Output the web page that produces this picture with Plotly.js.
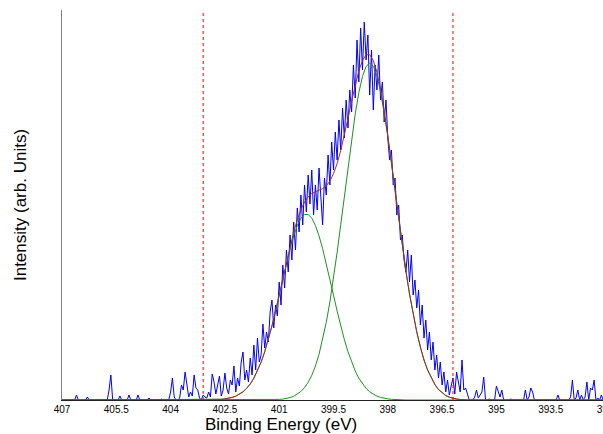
<!DOCTYPE html>
<html>
<head>
<meta charset="utf-8">
<script src="https://cdn.plot.ly/plotly-3.0.1.min.js"></script>
<style>
html, body { margin: 0; padding: 0; overflow: hidden; background: #fff; width: 603px; height: 434px; }
#chart { width: 620px; height: 434px; }
</style>
</head>
<body>
<div id="chart"></div>
<script>
// Measured spectrum: energies from 407 eV down in 0.05 eV steps
const dataStartEnergy = 407.0;
const dataStepEnergy = 0.05;
const measuredIntensity = [
  0,0,0,0,0,0,0,0,5,0,0,0,0,0,3,0,0,0,0,0,
  0,0,0,0,0,0,10,25,0,0,0,0,4,0,0,0,0,5,0,0,
  0,0,5,0,0,0,0,0,2,0,0,0,0,0,0,1,0,0,0,0,
  8,22,3,0,0,2,15,10,28,17,3,8,4,25,12,10,2,0,5,3,
  2,8,3,26,18,6,14,24,4,10,27,12,6,20,15,34,8,22,14,38,
  48,20,30,18,42,25,55,30,62,38,45,76,52,68,58,88,100,72,95,84,
  118,95,135,112,150,128,165,140,178,150,192,168,205,175,215,188,225,196,230,185,
  215,190,232,200,175,222,205,245,215,258,230,268,240,280,250,292,262,300,272,310,
  288,335,302,360,318,372,330,378,340,365,305,350,290,335,310,345,300,318,278,300,
  262,240,250,215,222,185,195,160,165,140,128,150,118,145,105,120,92,110,75,95,
  62,80,50,68,40,58,30,45,22,38,15,28,8,20,5,14,22,6,28,18,
  8,40,10,12,5,0,0,0,3,10,2,5,8,23,0,0,1,0,0,0,
  14,8,3,10,0,0,0,0,1,0,0,0,0,0,0,0,10,0,3,12,
  8,0,0,0,0,0,0,0,0,0,0,0,0,0,5,0,0,0,0,0,
  0,3,20,0,2,10,0,5,0,3,18,0,12,10,20,0,2,0,5,0,0
];

// Fit curves: energies from 403.0 eV down in 0.1 eV steps
const fitStartEnergy = 403.0;
const fitStepEnergy = 0.1;
const peakMain = [
  0,0,0,0,0,0,0,0,0,0, 0,0,0,0,0,0,0,0,0,0.3,
  0.6,0.9,1.5,2.4,3.7,5.7,8.5,12.4,17.7,24.7,
  33.9,45.6,60.1,77.6,98.0,121.5,147.5,175.4,204.4,233.4,
  261.2,286.2,307.4,323.5,333.6,337,333.8,324,308.5,288,
  264,237,209,181,154,129,106,86,68,53,
  40,30,22,15.5,10.5,7,4.5,2.8,1.7,1.0,
  0.5,0.2,0
];
const peakShoulder = [
  0,0.1,0.2,0.4,0.7,1.1,1.7,2.6,3.8,5.7,
  8.2,11.6,16.0,21.8,29.0,37.8,48.3,60.4,74.1,89.0,
  104.8,120.9,136.6,151.3,164.1,174.5,181.8,185.5,185.5,181.8,
  174.5,164.1,151.3,136.6,120.9,104.8,89.0,74.1,60.4,48.3,
  37.8,29.0,21.8,16.0,11.6,8.2,5.7,3.8,2.6,1.7,
  1.1,0.7,0.4,0.2,0.1,0,0,0,0,0,
  0,0,0,0,0,0,0,0,0,0,
  0,0,0
];
const fitEnvelope = [
  0,0.1,0.2,0.4,0.7,1.1,1.7,2.6,3.8,5.7,
  8.2,11.6,16.0,21.8,29.0,37.8,48.3,60.4,74.1,89.3,
  105.4,121.8,138.1,153.7,167.8,180.2,190.3,197.9,203.2,206.5,
  208.4,209.7,211.4,214.2,218.9,226.3,236.5,249.5,264.8,281.7,
  299.0,315.2,329.2,339.5,345.2,345.2,339.5,327.8,311.1,289.7,
  265.1,237.7,209.4,181.2,154.1,129,106,86,68,53,
  40,30,22,15.5,10.5,7,4.5,2.8,1.7,1.0,
  0.5,0.2,0
];

// Fit window limits (eV)
const fitWindow = [403.1, 396.2];
// Axis
const xRange = [407, 392];
const tickValues = [407, 405.5, 404, 402.5, 401, 399.5, 398, 396.5, 395, 393.5, 392];
const tickLabels = ["407", "405.5", "404", "402.5", "401", "399.5", "398", "396.5", "395", "393.5", "392"];
const xTitle = 'Binding Energy (eV)';
const yTitle = 'Intensity (arb. Units)';

const dataEnergy = measuredIntensity.map((_, i) => +(dataStartEnergy - i * dataStepEnergy).toFixed(2));
const fitEnergyCore = peakMain.map((_, i) => +(fitStartEnergy - i * fitStepEnergy).toFixed(2));
const fitEnergy = [xRange[0]].concat(fitEnergyCore, [xRange[1]]);
const pad = arr => [0].concat(arr, [0]);

const traces = [
  { x: dataEnergy, y: measuredIntensity, type: 'scatter', mode: 'lines',
    line: { color: '#0000ff', width: 1 }, hoverinfo: 'skip' },
  { x: fitEnergy, y: pad(peakMain), type: 'scatter', mode: 'lines',
    line: { color: '#1f901f', width: 1 }, hoverinfo: 'skip' },
  { x: fitEnergy, y: pad(peakShoulder), type: 'scatter', mode: 'lines',
    line: { color: '#1f901f', width: 1 }, hoverinfo: 'skip' },
  { x: fitEnergy, y: pad(fitEnvelope), type: 'scatter', mode: 'lines',
    line: { color: '#a52a2a', width: 1 }, hoverinfo: 'skip' }
];

const layout = {
  width: 620, height: 434,
  margin: { l: 62, r: 15, t: 10, b: 34 },
  paper_bgcolor: '#ffffff', plot_bgcolor: '#ffffff',
  showlegend: false,
  font: { family: 'Liberation Sans, Arial, sans-serif', color: '#000' },
  xaxis: {
    range: xRange, tickmode: 'array', tickvals: tickValues, ticktext: tickLabels,
    ticks: '', showgrid: false, zeroline: false,
    showline: true, linecolor: '#222', linewidth: 1,
    tickfont: { family: 'Liberation Sans Narrow, Arial Narrow, Liberation Sans, Arial, sans-serif', size: 10, color: '#000' },
    automargin: false
  },
  yaxis: {
    range: [0, 390], showticklabels: false, ticks: '', showgrid: false, zeroline: false,
    showline: true, linecolor: '#808080', linewidth: 1,
    title: { text: yTitle, font: { size: 17, color: '#000' }, standoff: 30 },
    automargin: false
  },
  annotations: [{
    text: xTitle, xref: 'paper', yref: 'paper', x: 0.403, y: 0,
    xanchor: 'center', yanchor: 'middle', yshift: -24.5, showarrow: false,
    font: { size: 17, color: '#000' }
  }],
  shapes: fitWindow.map(e => ({
    type: 'line', xref: 'x', yref: 'paper', x0: e, x1: e, y0: 0, y1: 1,
    line: { color: '#ff0000', width: 1, dash: 'dot' }, layer: 'above'
  }))
};

Plotly.newPlot('chart', traces, layout, { displayModeBar: false, staticPlot: true });
</script>
</body>
</html>
